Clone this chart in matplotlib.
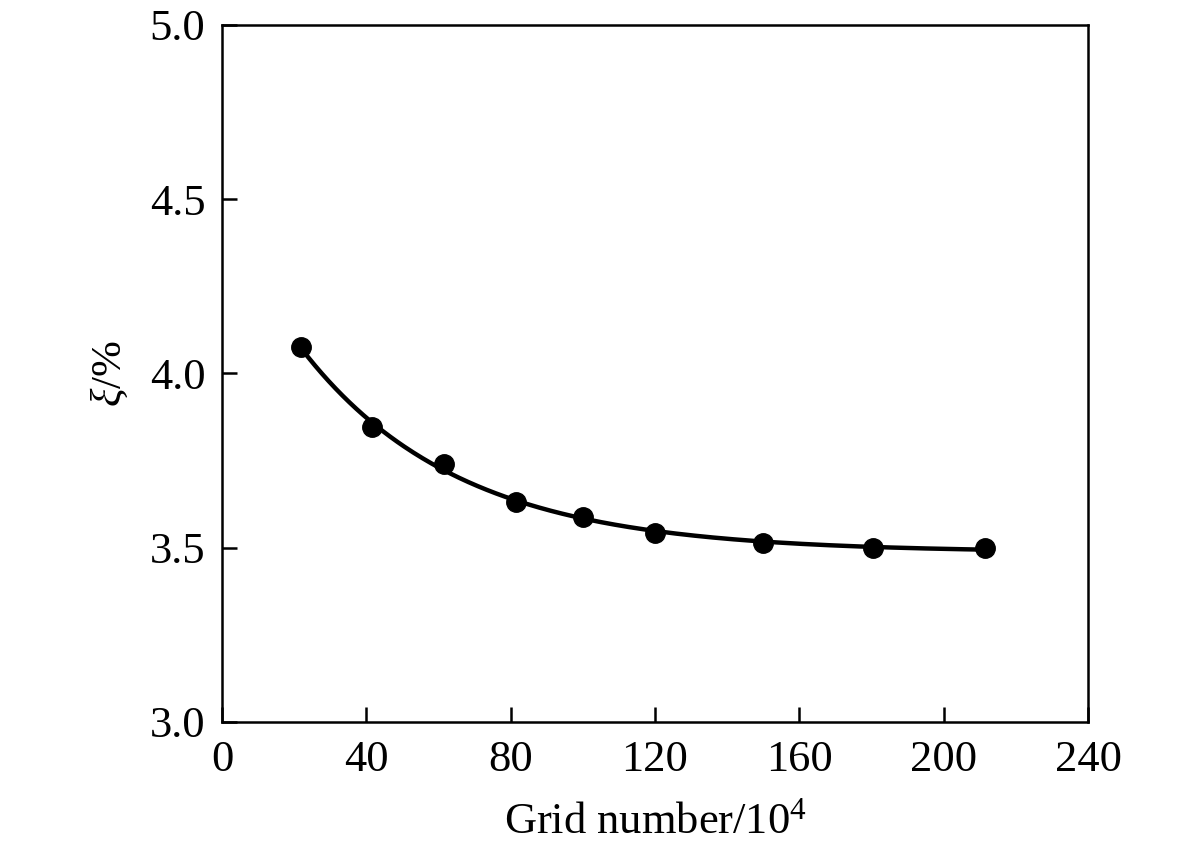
import matplotlib
matplotlib.use('Agg')
import matplotlib.pyplot as plt
import numpy as np

# values
grid_number = [22, 41.5, 61.5, 81.5, 100, 120, 150, 180.5, 211.5]
xi_percent = [4.075, 3.845, 3.740, 3.632, 3.587, 3.542, 3.515, 3.500, 3.500]

x_ticks = [0, 40, 80, 120, 160, 200, 240]
y_ticks = [3.0, 3.5, 4.0, 4.5, 5.0]


def fit_decay(x, y):
    """Least squares fit of y = a + b*exp(-x/c), scanning c."""
    x = np.asarray(x, dtype=float)
    y = np.asarray(y, dtype=float)
    best = None
    for c in np.linspace(5, 200, 2000):
        A = np.column_stack([np.ones_like(x), np.exp(-x / c)])
        coef, _, _, _ = np.linalg.lstsq(A, y, rcond=None)
        err = np.sum((A @ coef - y) ** 2)
        if best is None or err < best[0]:
            best = (err, coef[0], coef[1], c)
    _, a, b, c = best
    return lambda t: a + b * np.exp(-t / c)


plt.rcParams['font.family'] = ['Liberation Serif', 'DejaVu Serif']
plt.rcParams['mathtext.fontset'] = 'custom'
plt.rcParams['mathtext.rm'] = 'Liberation Serif'
plt.rcParams['mathtext.it'] = 'Liberation Serif:italic'

fig = plt.figure(figsize=(11.81, 8.49), dpi=100)
ax = fig.add_axes([0.188, 0.1496, 0.7333, 0.8210])

curve = fit_decay(grid_number, xi_percent)
xs = np.linspace(grid_number[0], grid_number[-1], 300)
ax.plot(xs, curve(xs), color='black', linewidth=3.2)
ax.plot(grid_number, xi_percent, 'o', color='black', markersize=14)

ax.set_xlim(0, 240)
ax.set_ylim(3.0, 5.0)
ax.set_xticks(x_ticks)
ax.set_yticks(y_ticks)
ax.set_yticklabels(['%.1f' % v for v in y_ticks])

ax.tick_params(direction='in', length=11, width=1.8, labelsize=32, pad=13)
ax.tick_params(axis='y', pad=12)
for s in ax.spines.values():
    s.set_linewidth(1.8)

ax.set_xlabel('Grid number/10$^4$', fontsize=32, labelpad=16)
ax.set_ylabel(r'$\mathit{\xi}$/%', fontsize=31, labelpad=14)

fig.savefig('out.png', dpi=100)
